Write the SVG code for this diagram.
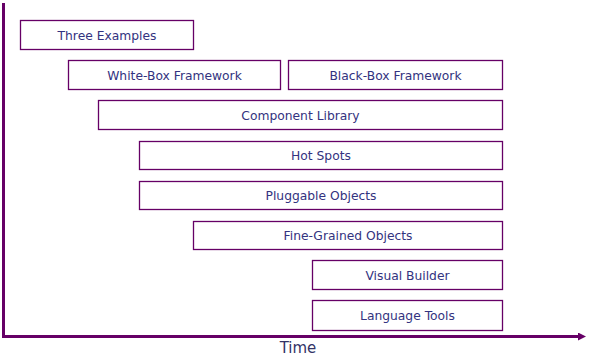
<svg xmlns="http://www.w3.org/2000/svg" width="589" height="364" viewBox="0 0 589 364">
<style>
.box{fill:#fff;stroke:#660066;stroke-width:1.3}
.lbl{font-family:"DejaVu Sans",sans-serif;font-size:12.3px;fill:#333380;text-anchor:middle}
.axis{stroke:#660066;stroke-width:3;fill:none}
</style>
<defs>
<marker id="arr" markerWidth="8" markerHeight="8" refX="2" refY="4" orient="auto" markerUnits="userSpaceOnUse" viewBox="0 0 8 8">
<path d="M0,0 L8,4 L0,8 Z" fill="#660066"/>
</marker>
</defs>
<rect width="589" height="364" fill="#fff"/>
<g id="connectors">
<path class="axis" d="M3.5,3 L3.5,336.5 L580,336.5" marker-end="url(#arr)"/>
</g>
<g id="n1"><rect class="box" x="20.5" y="20.5" width="173" height="29"/><text class="lbl" x="107" y="39.5">Three Examples</text></g>
<g id="n2"><rect class="box" x="68.5" y="60.5" width="212" height="29"/><text class="lbl" x="174.5" y="79.5">White-Box Framework</text></g>
<g id="n3"><rect class="box" x="288.5" y="60.5" width="214" height="29"/><text class="lbl" x="395.5" y="79.5">Black-Box Framework</text></g>
<g id="n4"><rect class="box" x="98.5" y="100.5" width="404" height="29"/><text class="lbl" x="300.5" y="119.5">Component Library</text></g>
<g id="n5"><rect class="box" x="139.5" y="141.5" width="363" height="28"/><text class="lbl" x="321" y="160">Hot Spots</text></g>
<g id="n6"><rect class="box" x="139.5" y="181.5" width="363" height="28"/><text class="lbl" x="321" y="200">Pluggable Objects</text></g>
<g id="n7"><rect class="box" x="193.5" y="221.5" width="309" height="28"/><text class="lbl" x="348" y="240">Fine-Grained Objects</text></g>
<g id="n8"><rect class="box" x="312.5" y="260.5" width="190" height="29"/><text class="lbl" x="407.5" y="279.5">Visual Builder</text></g>
<g id="n9"><rect class="box" x="312.5" y="300.5" width="190" height="30"/><text class="lbl" x="407.5" y="320">Language Tools</text></g>
<text x="298" y="353" font-family="DejaVu Sans,sans-serif" font-size="15" fill="#333366" text-anchor="middle">Time</text>
</svg>
